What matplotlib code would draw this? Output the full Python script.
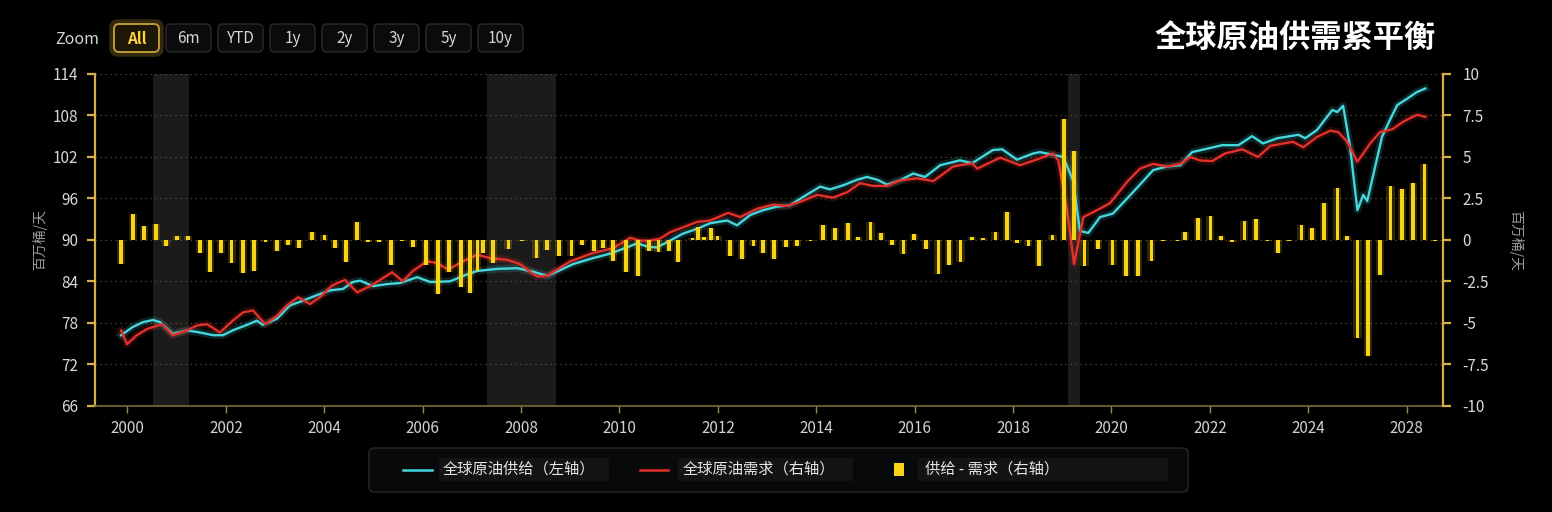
import matplotlib
matplotlib.use('Agg')
import matplotlib.pyplot as plt
import numpy as np
from matplotlib.patches import FancyBboxPatch, Rectangle
from matplotlib.lines import Line2D

plt.rcParams['font.family'] = ['Noto Sans CJK SC', 'DejaVu Sans']

# ---------------- data (x = position on the ordinal time axis) -------------
supply_dates = [1999.87, 2000.11, 2000.32, 2000.52, 2000.66, 2000.92, 2001.21, 2001.47, 2001.74, 2001.94,
                2002.14, 2002.43, 2002.63, 2002.75, 2003.04, 2003.30, 2003.57, 2003.85, 2004.12, 2004.38,
                2004.58, 2004.73, 2004.99, 2005.28, 2005.54, 2005.89, 2006.15, 2006.56, 2006.90, 2007.11,
                2007.51, 2007.92, 2008.24, 2008.53, 2008.73, 2009.06, 2009.46, 2009.81, 2010.22, 2010.36,
                2010.58, 2010.76, 2011.03, 2011.29, 2011.58, 2011.84, 2012.19, 2012.39, 2012.66, 2012.92,
                2013.20, 2013.47, 2013.73, 2014.08, 2014.28, 2014.55, 2014.83, 2015.03, 2015.24, 2015.44,
                2015.70, 2015.97, 2016.21, 2016.52, 2016.92, 2017.17, 2017.59, 2017.78, 2018.08, 2018.41,
                2018.55, 2018.75, 2019.02, 2019.22, 2019.36, 2019.53, 2019.77, 2020.03, 2020.44, 2020.85,
                2021.13, 2021.40, 2021.64, 2021.95, 2022.25, 2022.58, 2022.86, 2023.08, 2023.37, 2023.80,
                2023.94, 2024.18, 2024.49, 2024.59, 2024.71, 2024.85, 2025.00, 2025.12, 2025.20, 2025.50,
                2025.63, 2025.81, 2026.07, 2026.21, 2026.38]
supply_vals = [76.2, 77.4, 78.1, 78.4, 78.1, 76.4, 76.9, 76.6, 76.2, 76.2,
               76.9, 77.7, 78.3, 77.7, 78.6, 80.5, 81.2, 82.0, 82.7, 82.9,
               83.9, 84.1, 83.3, 83.6, 83.75, 84.6, 83.9, 84.0, 85.0, 85.5,
               85.8, 85.9, 85.4, 84.8, 85.4, 86.5, 87.35, 88.0, 89.1, 89.5,
               89.0, 88.9, 89.9, 90.9, 91.6, 92.4, 92.8, 92.1, 93.6, 94.3,
               94.8, 95.0, 96.2, 97.7, 97.3, 97.9, 98.7, 99.1, 98.7, 98.0,
               98.6, 99.6, 99.1, 100.8, 101.5, 101.1, 103.0, 103.1, 101.6, 102.5,
               102.7, 102.4, 102.0, 98.6, 91.3, 91.0, 93.3, 93.8, 96.9, 100.1,
               100.6, 100.8, 102.7, 103.2, 103.7, 103.7, 105.0, 103.95, 104.7, 105.2,
               104.7, 105.9, 108.8, 108.5, 109.4, 103.5, 94.3, 96.5, 95.6, 104.9,
               106.9, 109.5, 110.7, 111.4, 111.9]

demand_dates = [1999.87, 1999.99, 2000.19, 2000.40, 2000.70, 2000.92, 2001.21, 2001.41, 2001.62, 2001.88,
                2002.14, 2002.35, 2002.55, 2002.80, 2003.04, 2003.24, 2003.47, 2003.71, 2003.91, 2004.16,
                2004.42, 2004.67, 2004.93, 2005.38, 2005.60, 2005.80, 2006.09, 2006.29, 2006.52, 2006.82,
                2007.11, 2007.37, 2007.72, 2007.98, 2008.18, 2008.33, 2008.53, 2008.73, 2009.00, 2009.46,
                2009.87, 2010.22, 2010.42, 2010.62, 2010.83, 2011.03, 2011.29, 2011.58, 2011.84, 2012.21,
                2012.45, 2012.80, 2013.12, 2013.41, 2013.67, 2014.02, 2014.34, 2014.63, 2014.89, 2015.16,
                2015.44, 2015.70, 2016.05, 2016.38, 2016.78, 2017.17, 2017.27, 2017.74, 2018.14, 2018.55,
                2018.81, 2018.92, 2019.10, 2019.24, 2019.43, 2019.63, 2019.97, 2020.32, 2020.58, 2020.85,
                2021.13, 2021.40, 2021.60, 2021.80, 2022.05, 2022.31, 2022.66, 2022.98, 2023.23, 2023.69,
                2023.90, 2024.18, 2024.45, 2024.61, 2024.79, 2025.00, 2025.26, 2025.46, 2025.71, 2025.93,
                2026.21, 2026.38]
demand_vals = [76.9, 74.9, 76.2, 77.1, 77.8, 76.2, 76.9, 77.6, 77.8, 76.6,
               78.3, 79.5, 79.8, 77.8, 79.0, 80.5, 81.7, 80.7, 81.7, 83.4,
               84.2, 82.4, 83.3, 85.3, 84.0, 85.5, 86.9, 86.65, 85.7, 86.9,
               87.85, 87.35, 87.1, 86.5, 85.4, 84.7, 84.8, 85.7, 86.9, 88.1,
               88.8, 90.3, 89.9, 89.9, 90.2, 91.1, 91.8, 92.6, 92.8, 93.9,
               93.3, 94.5, 95.1, 94.9, 95.5, 96.5, 96.1, 96.9, 98.2, 97.8,
               97.8, 98.6, 98.9, 98.5, 100.6, 101.1, 100.3, 101.9, 100.8, 101.8,
               102.5, 101.5, 94.3, 86.5, 93.3, 94.0, 95.3, 98.4, 100.3, 101.0,
               100.6, 101.0, 102.0, 101.5, 101.4, 102.5, 103.1, 102.0, 103.6, 104.2,
               103.4, 104.9, 105.8, 105.6, 104.2, 101.3, 103.95, 105.6, 106.0, 107.1,
               108.1, 107.8]

bar_dates = [1999.87, 2000.11, 2000.34, 2000.58, 2000.78, 2001.01, 2001.23, 2001.47, 2001.68, 2001.90,
             2002.12, 2002.35, 2002.57, 2002.80, 2003.04, 2003.26, 2003.49, 2003.75, 2004.00, 2004.22,
             2004.44, 2004.67, 2004.89, 2005.11, 2005.36, 2005.58, 2005.80, 2006.07, 2006.31, 2006.54,
             2006.78, 2006.96, 2007.11, 2007.23, 2007.43, 2007.74, 2008.02, 2008.31, 2008.53, 2008.77,
             2009.02, 2009.24, 2009.48, 2009.67, 2009.87, 2010.13, 2010.38, 2010.60, 2010.79, 2011.01,
             2011.19, 2011.48, 2011.60, 2011.72, 2011.86, 2011.99, 2012.25, 2012.49, 2012.72, 2012.92,
             2013.14, 2013.39, 2013.61, 2013.88, 2014.14, 2014.38, 2014.65, 2014.85, 2015.10, 2015.32,
             2015.54, 2015.77, 2015.99, 2016.23, 2016.48, 2016.70, 2016.93, 2017.17, 2017.39, 2017.64,
             2017.88, 2018.08, 2018.31, 2018.53, 2018.80, 2019.04, 2019.24, 2019.45, 2019.73, 2020.02,
             2020.30, 2020.54, 2020.81, 2021.05, 2021.34, 2021.50, 2021.76, 2022.01, 2022.23, 2022.45,
             2022.70, 2022.94, 2023.17, 2023.39, 2023.61, 2023.86, 2024.08, 2024.32, 2024.59, 2024.79,
             2025.00, 2025.22, 2025.46, 2025.67, 2025.91, 2026.13, 2026.36, 2026.58]
bar_vals = [-1.45, 1.58, 0.83, 0.94, -0.37, 0.25, 0.26, -0.8, -1.95, -0.77,
            -1.4, -2.0, -1.9, -0.1, -0.7, -0.3, -0.5, 0.5, 0.3, -0.5,
            -1.35, 1.1, -0.1, -0.15, -1.5, -0.05, -0.46, -1.54, -3.26, -1.94,
            -2.85, -3.22, -1.85, -0.8, -1.4, -0.55, -0.05, -1.1, -0.6, -0.95,
            -1.0, -0.3, -0.65, -0.5, -1.25, -1.95, -2.15, -0.7, -0.75, -0.7,
            -1.35, 0.1, 0.75, 0.2, 0.7, 0.25, -1.0, -1.15, -0.4, -0.8,
            -1.15, -0.45, -0.35, -0.05, 0.9, 0.7, 1.0, 0.2, 1.1, 0.4,
            -0.3, -0.85, 0.35, -0.55, -2.05, -1.5, -1.35, 0.15, 0.1, 0.45,
            1.7, -0.2, -0.4, -1.6, 0.3, 7.3, 5.35, -1.6, -0.55, -1.5,
            -2.2, -2.15, -1.3, -0.05, -0.05, 0.46, 1.3, 1.45, 0.26, -0.1,
            1.15, 1.25, -0.05, -0.8, -0.05, 0.9, 0.7, 2.25, 3.1, 0.25,
            -5.9, -7.0, -2.1, 3.25, 3.05, 3.4, 4.55, -0.05]

shade_start = [2000.52, 2007.31, 2019.12]
shade_end = [2001.26, 2008.71, 2019.36]

x_tick_pos = [2000, 2002, 2004, 2006, 2008, 2010, 2012, 2014, 2016, 2018, 2020, 2022, 2024, 2026]
x_tick_labels = ['2000', '2002', '2004', '2006', '2008', '2010', '2012', '2014', '2016', '2018',
                 '2020', '2022', '2024', '2028']
left_ticks = [66, 72, 78, 84, 90, 96, 102, 108, 114]
right_ticks = [-10, -7.5, -5, -2.5, 0, 2.5, 5, 7.5, 10]
right_tick_labels = ['-10', '-7.5', '-5', '-2.5', '0', '2.5', '5', '7.5', '10']

title = '全球原油供需紧平衡'
series_names = ['全球原油供给（左轴）', '全球原油需求（右轴）', '供给 - 需求（右轴）']
unit_label = '百万桶/天'
zoom_buttons = ['All', '6m', 'YTD', '1y', '2y', '3y', '5y', '10y']

# ---------------- styling ----------------
BG = '#000000'
CYAN = '#45D6DE'
RED = '#E3312A'
YEL = '#F7D417'
GOLD = '#D6B046'

W, H = 1552, 512
fig = plt.figure(figsize=(W / 100, H / 100), dpi=100, facecolor=BG)

L, R, T, B = 95, 1443, 74, 405.7
ax = fig.add_axes([L / W, 1 - B / H, (R - L) / W, (B - T) / H])
ax.set_facecolor(BG)
ax2 = ax.twinx()
ax2.patch.set_visible(False)

ax.set_xlim(1999.34, 2026.74)
ax.set_ylim(66, 114)
ax2.set_ylim(-10, 10)

for s, e in zip(shade_start, shade_end):
    ax.axvspan(s, e, color='#1b1b1b', lw=0, zorder=0)

ax.set_yticks(left_ticks)
ax.grid(axis='y', color='#57533f', lw=0.9, linestyle=(0, (1, 3)))
ax.set_axisbelow(True)

# lines with glow
for d, v, c in [(supply_dates, supply_vals, CYAN), (demand_dates, demand_vals, RED)]:
    ax.plot(d, v, color=c, lw=5.5, alpha=0.16, solid_joinstyle='round', zorder=2)
    ax.plot(d, v, color=c, lw=1.7, solid_joinstyle='round', zorder=3)

# bars with glow
ax2.bar(bar_dates, bar_vals, width=0.17, color=YEL, alpha=0.18, lw=0, zorder=2)
ax2.bar(bar_dates, bar_vals, width=0.07, color=YEL, lw=0, zorder=3)

ax.set_xticks(x_tick_pos)
ax.set_xticklabels(x_tick_labels)
ax2.set_yticks(right_ticks)
ax2.set_yticklabels(right_tick_labels)

for a in (ax, ax2):
    for sp in a.spines.values():
        sp.set_visible(False)
ax.spines['left'].set_visible(True)
ax.spines['left'].set_color(GOLD)
ax.spines['left'].set_linewidth(1.6)
ax.spines['bottom'].set_visible(True)
ax.spines['bottom'].set_color('#7d6c36')
ax.spines['bottom'].set_linewidth(1.2)
ax2.spines['right'].set_visible(True)
ax2.spines['right'].set_color(GOLD)
ax2.spines['right'].set_linewidth(1.6)

ax.tick_params(axis='y', color=GOLD, length=6, width=1.6, labelcolor='#d8d8d8', labelsize=11, pad=6)
ax.tick_params(axis='x', color='#9a8850', length=5, width=1.0, labelcolor='#d2d2d2', labelsize=11, pad=5)
ax2.tick_params(axis='y', color=GOLD, length=6, width=1.6, labelcolor='#d8d8d8', labelsize=11, pad=8)

# ---------------- overlay in pixel coordinates ----------------
ov = fig.add_axes([0, 0, 1, 1], zorder=5)
ov.set_xlim(0, W)
ov.set_ylim(H, 0)
ov.axis('off')
ov.patch.set_visible(False)

fig.text(40 / W, 1 - 240 / H, unit_label, rotation=90, ha='center', va='center', color='#9a9a9a', fontsize=10)
fig.text(1516 / W, 1 - 240 / H, unit_label, rotation=270, ha='center', va='center', color='#9a9a9a', fontsize=10)

ov.text(1295, 38, title, ha='center', va='center', color='white', fontsize=22.5, fontweight='bold')

# zoom buttons
ov.text(77, 39, 'Zoom', ha='center', va='center', color='#d5d5d5', fontsize=11.5)
bx0, bw, bstep = 114, 45, 52
for i, lab in enumerate(zoom_buttons):
    x0 = bx0 + i * bstep
    active = (i == 0)
    if active:
        glow = FancyBboxPatch((x0 - 2, 22), bw + 4, 32, boxstyle='round,pad=0,rounding_size=6',
                              fc='none', ec='#C9A23A', lw=4, alpha=0.25)
        ov.add_patch(glow)
    p = FancyBboxPatch((x0, 24), bw, 28, boxstyle='round,pad=0,rounding_size=5',
                       fc='#1d1705' if active else '#0b0b0b',
                       ec='#C9A23A' if active else '#2b2b2b', lw=1.3 if active else 1.0)
    ov.add_patch(p)
    ov.text(x0 + bw / 2, 38.5, lab, ha='center', va='center',
            color='#FFD43B' if active else '#d6d6d6', fontsize=11,
            fontweight='bold' if active else 'normal')

# legend
ov.add_patch(FancyBboxPatch((369, 448), 819, 44, boxstyle='round,pad=0,rounding_size=5',
                            fc='#07090b', ec='#25292d', lw=1.0))
for (bx, bwid) in [(439, 170), (678, 175), (918, 250)]:
    ov.add_patch(Rectangle((bx, 458), bwid, 23, fc='#111315', ec='none'))
ov.add_line(Line2D([403, 432], [469.5, 469.5], color=CYAN, lw=1.8))
ov.add_line(Line2D([640, 668], [469.5, 469.5], color=RED, lw=1.8))
ov.add_patch(Rectangle((894, 463), 10, 13, fc=YEL, ec='none'))
for tx, lab in zip([443, 683, 925], series_names):
    ov.text(tx, 469.5, lab, ha='left', va='center', color='#e6e6e6', fontsize=11)

fig.savefig('out.png', dpi=100, facecolor=BG)
